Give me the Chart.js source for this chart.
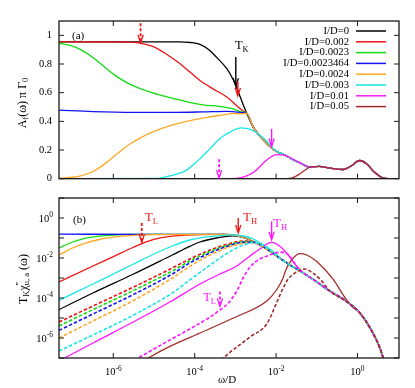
<!DOCTYPE html>
<html><head><meta charset="utf-8">
<script src="https://cdn.jsdelivr.net/npm/chart.js@4.4.1/dist/chart.umd.min.js"></script>
<style>
html,body{margin:0;padding:0;background:#fff;}
#wrap{position:relative;width:415px;height:388px;overflow:hidden;}
canvas{position:absolute;left:0;top:0;}
</style></head><body>
<div id="wrap"><canvas id="cb" width="415" height="388"></canvas><canvas id="ca" width="415" height="192"></canvas></div>
<script>
// ---------- data (x = log10(omega/D)) ----------
const seriesLabels = ['I/D=0','I/D=0.002','I/D=0.0023','I/D=0.0023464','I/D=0.0024','I/D=0.003','I/D=0.01','I/D=0.05'];
const seriesColors = ['#000000','#f01414','#12dc12','#1414f0','#ffa826','#16e6e6','#ff14ff','#a52a2a'];
const xTickExp = [-6,-4,-2,0];
const yTicksA = [0,0.2,0.4,0.6,0.8,1];
const yLabelExpB = [-6,-4,-2,0];
const yMarkExpB = [-7,-6,-5,-4,-3,-2,-1,0,1];

// panel (a): A_f(w) pi Gamma_0
const aDecline = [[-2.72,0.455],[-2.56,0.36],[-2.23,0.246],[-1.99,0.19],[-1.82,0.17],[-1.6,0.135],[-1.41,0.11]];
const aTail = [[-1.17,0.08],[-0.95,0.086],[-0.75,0.078],[-0.55,0.068],[-0.35,0.064],[-0.15,0.09],[0.05,0.127],[0.22,0.105],[0.4,0.05],[0.6,0.008],[0.75,0],[1.02,0]];
const aBlack = [[-7.334,0.955],[-4.4,0.955],[-4.1,0.95],[-3.87,0.937],[-3.65,0.9],[-3.46,0.846],[-3.21,0.767],[-3.05,0.688],[-2.97,0.635],[-2.81,0.518]];
const aRed = [[-7.334,0.955],[-5.6,0.953],[-5.34,0.945],[-5.0,0.92],[-4.7,0.87],[-4.4,0.81],[-4.1,0.74],[-3.87,0.685],[-3.54,0.625],[-3.21,0.57],[-2.97,0.51],[-2.8,0.47]];
const aGreen = [[-7.334,0.945],[-7.0,0.925],[-6.8,0.9],[-6.5,0.845],[-6.2,0.775],[-5.9,0.71],[-5.6,0.66],[-5.2,0.615],[-4.8,0.58],[-4.3,0.545],[-3.8,0.515],[-3.4,0.505],[-3.05,0.487],[-2.89,0.468]];
const aBlue = [[-7.334,0.478],[-6.5,0.468],[-5.5,0.463],[-4.5,0.463],[-3.8,0.466],[-3.2,0.47],[-2.97,0.465]];
const aOrange = [[-7.334,0.003],[-7.0,0.01],[-6.8,0.02],[-6.5,0.05],[-6.2,0.105],[-5.9,0.175],[-5.6,0.24],[-5.3,0.29],[-5.0,0.33],[-4.6,0.37],[-4.2,0.4],[-3.7,0.428],[-3.3,0.445],[-3.05,0.455],[-2.89,0.453]];
const aCyan = [[-7.334,0],[-5.0,0.002],[-4.6,0.02],[-4.2,0.06],[-3.87,0.14],[-3.62,0.21],[-3.38,0.28],[-3.1,0.33],[-2.87,0.355],[-2.6,0.34],[-2.3,0.28],[-2.0,0.195],[-1.82,0.17],[-1.6,0.135],[-1.41,0.11]];
const aMagenta = [[-7.334,0],[-3.1,0],[-2.89,0.005],[-2.56,0.043],[-2.23,0.13],[-1.99,0.168],[-1.8,0.165],[-1.6,0.138],[-1.41,0.11]];
const aBrown = [[-7.334,0],[-1.75,0],[-1.6,0.006],[-1.41,0.035],[-1.25,0.068]];

// panel (b): log10( T_K chi''(w) ), solid = u, dashed = a
const bTop = [[-2.97,-0.88],[-2.64,-1.1]];
const bDecline = [[-2.23,-1.55],[-1.9,-2.02],[-1.66,-2.35],[-1.41,-2.65],[-1.09,-3.07]];
const bTail = [[-0.68,-3.65],[-0.27,-4.17],[0.06,-4.75],[0.31,-5.5],[0.55,-6.5],[0.75,-7.8]];
const bBlack = [[-7.334,-4.58],[-6.5,-3.75],[-5.5,-2.8],[-4.55,-1.85],[-4.12,-1.42],[-3.87,-1.2],[-3.46,-1.0],[-3.05,-0.89],[-2.8,-0.97],[-2.64,-1.1]];
const bRed = [[-7.334,-3.2],[-6.5,-2.4],[-6.0,-1.93],[-5.6,-1.55],[-5.3,-1.28],[-5.0,-1.07],[-4.6,-0.92],[-4.0,-0.84],[-3.3,-0.82]];
const bGreen = [[-7.334,-1.5],[-7.0,-1.2],[-6.7,-1.02],[-6.4,-0.92],[-6.0,-0.85],[-5.5,-0.82],[-3.3,-0.82]];
const bBlue = [[-7.334,-0.81],[-5.0,-0.815],[-3.3,-0.82]];
const bOrange = [[-7.334,-1.85],[-7.0,-1.5],[-6.7,-1.27],[-6.4,-1.1],[-6.0,-0.96],[-5.5,-0.87],[-5.0,-0.83],[-3.3,-0.82]];
const bCyan = [[-7.334,-4.12],[-6.5,-3.3],[-6.0,-2.8],[-5.5,-2.3],[-5.0,-1.8],[-4.55,-1.4],[-4.12,-1.1],[-3.62,-0.93],[-3.1,-0.84],[-2.8,-0.9],[-2.56,-1.05],[-2.3,-1.35],[-2.0,-1.8]];
const bMagenta = [[-7.334,-7.15],[-6.5,-6.25],[-5.5,-5.19],[-4.61,-4.2],[-3.87,-3.3],[-3.38,-2.8],[-2.97,-2.4],[-2.64,-1.9],[-2.4,-1.55],[-2.11,-1.22],[-1.9,-1.42],[-1.7,-1.85],[-1.5,-2.4],[-1.3,-2.8],[-1.09,-3.07]];
const bBrown = [[-5.3,-7.2],[-5.14,-7.0],[-4.61,-6.42],[-3.87,-5.75],[-3.05,-5.0],[-2.23,-4.15],[-1.99,-3.6],[-1.85,-3.1],[-1.74,-2.5],[-1.6,-2.05],[-1.41,-1.785],[-1.25,-1.85],[-1.0,-2.17],[-0.59,-3.08],[-0.35,-3.85],[-0.15,-4.4],[0.06,-4.75],[0.31,-5.5],[0.55,-6.5],[0.75,-7.8]];
const bRedD = [[-7.334,-5.2],[-6.5,-4.4],[-5.5,-3.45],[-4.55,-2.5],[-4.12,-2.05],[-3.62,-1.6],[-3.13,-1.27],[-2.8,-1.15],[-2.55,-1.2]];
const bGreenD = [[-7.334,-5.4],[-6.5,-4.58],[-5.5,-3.62],[-4.55,-2.65],[-4.12,-2.15],[-3.62,-1.67],[-3.13,-1.32],[-2.8,-1.18],[-2.55,-1.2]];
const bBlueD = [[-7.334,-5.62],[-6.5,-4.8],[-5.5,-3.82],[-4.55,-2.8],[-4.12,-2.25],[-3.62,-1.75],[-3.13,-1.37],[-2.8,-1.22],[-2.55,-1.22]];
const bOrangeD = [[-7.334,-6.0],[-6.5,-5.15],[-5.5,-4.12],[-4.55,-3.0],[-4.12,-2.42],[-3.62,-1.85],[-3.13,-1.43],[-2.8,-1.27],[-2.55,-1.24]];
const bCyanD = [[-7.334,-6.65],[-6.5,-5.85],[-5.5,-4.85],[-4.55,-3.75],[-4.12,-3.1],[-3.62,-2.35],[-3.13,-1.67],[-2.8,-1.35],[-2.56,-1.22],[-2.3,-1.4],[-2.0,-1.85]];
const bMagentaD = [[-5.6,-7.25],[-5.39,-7.0],[-4.61,-6.1],[-4.12,-5.55],[-3.62,-4.95],[-3.38,-4.6],[-3.15,-4.2],[-2.95,-3.6],[-2.81,-3.0],[-2.64,-2.45],[-2.4,-2.05],[-2.15,-1.85],[-1.95,-1.72],[-1.8,-1.72],[-1.65,-1.95],[-1.5,-2.4],[-1.3,-2.8],[-1.09,-3.07]];
const bBrownD = [[-3.45,-7.3],[-3.3,-7.0],[-2.64,-5.95],[-2.23,-5.3],[-2.0,-4.3],[-1.85,-3.6],[-1.7,-3.05],[-1.5,-2.7],[-1.3,-2.55],[-1.1,-2.75],[-0.9,-3.1]];

// annotations: [log10 w, from, to, color, dashed]
const arrowsA = [[-5.33,1.084,0.948,'#f01414',true],[-2.99,0.849,0.645,'#000000',false],[-2.94,0.679,0.577,'#f01414',false],[-2.11,0.348,0.224,'#ff14ff',false],[-3.40,0.136,0.004,'#ff14ff',true]];
const arrowsB = [[-5.30,-0.25,-1.22,'#f01414',true],[-2.93,0.0,-0.75,'#f01414',false],[-2.11,-0.17,-1.085,'#ff14ff',false],[-3.38,-3.67,-4.42,'#ff14ff',true]];
// labels: [text, sub, log10 w (left), y (baseline), color]
const labelsA = [['T','K',-3.01,0.903,'#000000']];
const labelsB = [['T','L',-5.22,-0.135,'#f01414'],['T','H',-2.806,-0.135,'#f01414'],['T','H',-2.07,-0.435,'#ff14ff'],['T','L',-3.79,-4.16,'#ff14ff']];

// ---------- drawing ----------
const FONT = '"Liberation Serif","Times New Roman",serif';
const XMIN = Math.pow(10,-7.334), XMAX = Math.pow(10,1.02);
const ptsLin = arr => arr.map(p=>({x:Math.pow(10,p[0]), y:p[1]}));
const ptsLog = arr => arr.map(p=>({x:Math.pow(10,p[0]), y:Math.pow(10,p[1])}));

function ds(label, data, color, i, dashed){
  return {label, data, borderColor:color, backgroundColor:color, borderWidth: dashed?1.6:1.3,
    borderDash: dashed?[3.5,2]:[], pointRadius:0, fill:false, cubicInterpolationMode:'monotone', order:-i};
}
function measure(ctx, parts){
  let w=0; parts.forEach(p=>{ctx.font=p[1]+'px '+FONT; if(p[3]!==false) w+=ctx.measureText(p[0]).width;}); return w;
}
function rich(ctx, x, y, parts, align){
  const w = measure(ctx, parts);
  let cx = align==='center'? x-w/2 : (align==='right'? x-w : x);
  ctx.textAlign='left';
  parts.forEach(p=>{ctx.font=p[1]+'px '+FONT; ctx.fillText(p[0],cx,y+p[2]); if(p[3]!==false) cx+=ctx.measureText(p[0]).width;});
}
const powParts = e => [['10',10.5,0],[String(e),7.5,-4.5]];
function arrow(ctx,x,y1,y2,color,dashed){
  ctx.save(); ctx.strokeStyle=color; ctx.lineWidth=dashed?1.8:1.4;
  if(dashed) ctx.setLineDash([3,2]);
  ctx.beginPath(); ctx.moveTo(x,y1); ctx.lineTo(x,y2-1); ctx.stroke();
  ctx.setLineDash([]); ctx.lineWidth=1.3;
  ctx.beginPath(); ctx.moveTo(x-2.6,y2-8); ctx.lineTo(x,y2); ctx.lineTo(x+2.6,y2-8); ctx.stroke();
  ctx.restore();
}
function frameTicks(chart, yVals){
  const {ctx, chartArea:a, scales:{x,y}} = chart;
  ctx.save(); ctx.strokeStyle='#1a1a1a'; ctx.lineWidth=1;
  const L=5; ctx.beginPath();
  xTickExp.forEach(e=>{const px=x.getPixelForValue(Math.pow(10,e)); ctx.moveTo(px,a.bottom); ctx.lineTo(px,a.bottom-L); ctx.moveTo(px,a.top); ctx.lineTo(px,a.top+L);});
  yVals.forEach(v=>{const py=y.getPixelForValue(v); if(py<a.top-0.5||py>a.bottom+0.5) return; ctx.moveTo(a.left,py); ctx.lineTo(a.left+L,py); ctx.moveTo(a.right,py); ctx.lineTo(a.right-L,py);});
  ctx.stroke();
  ctx.lineWidth=1.3; ctx.strokeRect(a.left,a.top,a.right-a.left,a.bottom-a.top);
  ctx.restore();
}
function tickFont(){return {family:FONT,size:10.5};}
const gridOff = {display:false, drawTicks:false, tickLength:0};

// ---------- chart (a) ----------
const aSeries=[aBlack.concat(aDecline,aTail), aRed.concat(aDecline,aTail), aGreen.concat(aDecline,aTail), aBlue.concat(aDecline,aTail),
  aOrange.concat(aDecline,aTail), aCyan.concat(aTail), aMagenta.concat(aTail), aBrown.concat(aTail)];
const decorA = {id:'decorA',
  afterDatasetsDraw(chart){ frameTicks(chart, yTicksA); },
  afterDraw(chart){
    const {ctx, scales:{x,y}} = chart;
    ctx.save(); ctx.fillStyle='#000'; ctx.textBaseline='alphabetic';
    arrowsA.forEach(r=>arrow(ctx,x.getPixelForValue(Math.pow(10,r[0])),y.getPixelForValue(r[1]),y.getPixelForValue(r[2]),r[3],r[4]));
    labelsA.forEach(l=>{ctx.fillStyle=l[4]; rich(ctx,x.getPixelForValue(Math.pow(10,l[2])),y.getPixelForValue(l[3]),[[l[0],12.5,0],[l[1],8.5,3]],'left');});
    // legend
    ctx.textBaseline='middle';
    seriesLabels.forEach((lab,i)=>{
      const yy=31+i*10.8;
      ctx.fillStyle='#000'; ctx.font='10.7px '+FONT; ctx.textAlign='right'; ctx.fillText(lab,349,yy);
      ctx.strokeStyle=seriesColors[i]; ctx.lineWidth=1.5; ctx.beginPath(); ctx.moveTo(356,yy); ctx.lineTo(386,yy); ctx.stroke();
    });
    // panel label and y title
    ctx.fillStyle='#000'; ctx.textAlign='left'; ctx.font='11px '+FONT; ctx.fillText('(a)',72,36);
    ctx.translate(22.5,103); ctx.rotate(-Math.PI/2); ctx.textBaseline='middle';
    rich(ctx,0,0,[['A',12,0],['f',8.5,3],['(\u03C9) \u03C0 \u0393',12,0],['0',8.5,3]],'center');
    ctx.restore();
  }};
new Chart(document.getElementById('ca'),{
  type:'line',
  data:{datasets:aSeries.map((s,i)=>ds(seriesLabels[i],ptsLin(s),seriesColors[i],i,false))},
  options:{responsive:false, animation:false, devicePixelRatio:1, events:[],
    layout:{padding:{top:21,right:16,left:0,bottom:0}},
    plugins:{legend:{display:false},tooltip:{enabled:false}},
    scales:{
      x:{type:'logarithmic',min:XMIN,max:XMAX,grid:gridOff,border:{display:false},ticks:{display:false},
         afterBuildTicks:s=>{s.ticks=xTickExp.map(e=>({value:Math.pow(10,e)}));}, afterFit:s=>{s.height=9;}},
      y:{type:'linear',min:0,max:1.1,grid:gridOff,border:{display:false},
         ticks:{font:tickFont(),color:'#000',padding:7,callback:v=>v===0?'0':(v===1?'1':v.toFixed(1))},
         afterBuildTicks:s=>{s.ticks=yTicksA.map(v=>({value:v}));}, afterFit:s=>{s.width=59;}}
    }},
  plugins:[decorA]
});

// ---------- chart (b) ----------
const topB = bTop.concat(bDecline,bTail);
const bSolid=[bBlack.concat(bDecline,bTail), bRed.concat(topB), bGreen.concat(topB), bBlue.concat(topB), bOrange.concat(topB),
  bCyan.concat(bDecline.slice(1),bTail), bMagenta.concat(bTail), bBrown];
const bDashed=[bRedD.concat(bDecline,bTail), bGreenD.concat(bDecline,bTail), bBlueD.concat(bDecline,bTail), bOrangeD.concat(bDecline,bTail),
  bCyanD.concat(bDecline.slice(1),bTail), bMagentaD.concat(bTail), bBrownD.concat(bTail)];
const dashedColors=[seriesColors[1],seriesColors[2],seriesColors[3],seriesColors[4],seriesColors[5],seriesColors[6],seriesColors[7]];
const dashedLabels=[seriesLabels[1],seriesLabels[2],seriesLabels[3],seriesLabels[4],seriesLabels[5],seriesLabels[6],seriesLabels[7]];
const decorB = {id:'decorB',
  afterDatasetsDraw(chart){ frameTicks(chart, yMarkExpB.map(e=>Math.pow(10,e))); },
  afterDraw(chart){
    const {ctx, chartArea:a, scales:{x,y}} = chart;
    ctx.save(); ctx.textBaseline='alphabetic'; ctx.fillStyle='#000';
    // power-of-ten tick labels placed by the scales
    x.ticks.forEach(t=>{const e=Math.round(Math.log10(t.value)); rich(ctx,x.getPixelForValue(t.value),a.bottom+17,powParts(e),'center');});
    y.ticks.forEach(t=>{const e=Math.round(Math.log10(t.value)); rich(ctx,a.left-6,y.getPixelForValue(t.value)+3.7,powParts(e),'right');});
    arrowsB.forEach(r=>arrow(ctx,x.getPixelForValue(Math.pow(10,r[0])),y.getPixelForValue(Math.pow(10,r[1])),y.getPixelForValue(Math.pow(10,r[2])),r[3],r[4]));
    labelsB.forEach(l=>{ctx.fillStyle=l[4]; rich(ctx,x.getPixelForValue(Math.pow(10,l[2])),y.getPixelForValue(Math.pow(10,l[3])),[[l[0],12.5,0],[l[1],8.5,3]],'left');});
    ctx.fillStyle='#000'; ctx.textAlign='left'; ctx.font='11px '+FONT; ctx.fillText('(b)',73,223);
    ctx.textAlign='center'; ctx.font='11px '+FONT; ctx.fillText('\u03C9/D',227,383);
    ctx.translate(24,279); ctx.rotate(-Math.PI/2); ctx.textBaseline='middle';
    rich(ctx,0,0,[['T',12,0],['K',8.5,3],['\u03C7',12,0],["''",8.5,-4,false],['u, a',8.5,3],[' (\u03C9)',12,0]],'center');
    ctx.restore();
  }};
const dsB = bSolid.map((s,i)=>ds(seriesLabels[i],ptsLog(s),seriesColors[i],i,false))
  .concat(bDashed.map((s,j)=>ds(dashedLabels[j]+' (a)',ptsLog(s),dashedColors[j],8+j,true)));
new Chart(document.getElementById('cb'),{
  type:'line',
  data:{datasets:dsB},
  options:{responsive:false, animation:false, devicePixelRatio:1, events:[],
    layout:{padding:{top:198,right:16,left:0,bottom:0}},
    plugins:{legend:{display:false},tooltip:{enabled:false}},
    scales:{
      x:{type:'logarithmic',min:XMIN,max:XMAX,grid:gridOff,border:{display:false},
         ticks:{display:false,autoSkip:false},
         afterBuildTicks:s=>{s.ticks=xTickExp.map(e=>({value:Math.pow(10,e)}));}, afterFit:s=>{s.height=30;}},
      y:{type:'logarithmic',min:1e-7,max:10,grid:gridOff,border:{display:false},
         ticks:{display:false,autoSkip:false},
         afterBuildTicks:s=>{s.ticks=yLabelExpB.map(e=>({value:Math.pow(10,e)}));}, afterFit:s=>{s.width=59;}}
    }},
  plugins:[decorB]
});
</script>
</body></html>
